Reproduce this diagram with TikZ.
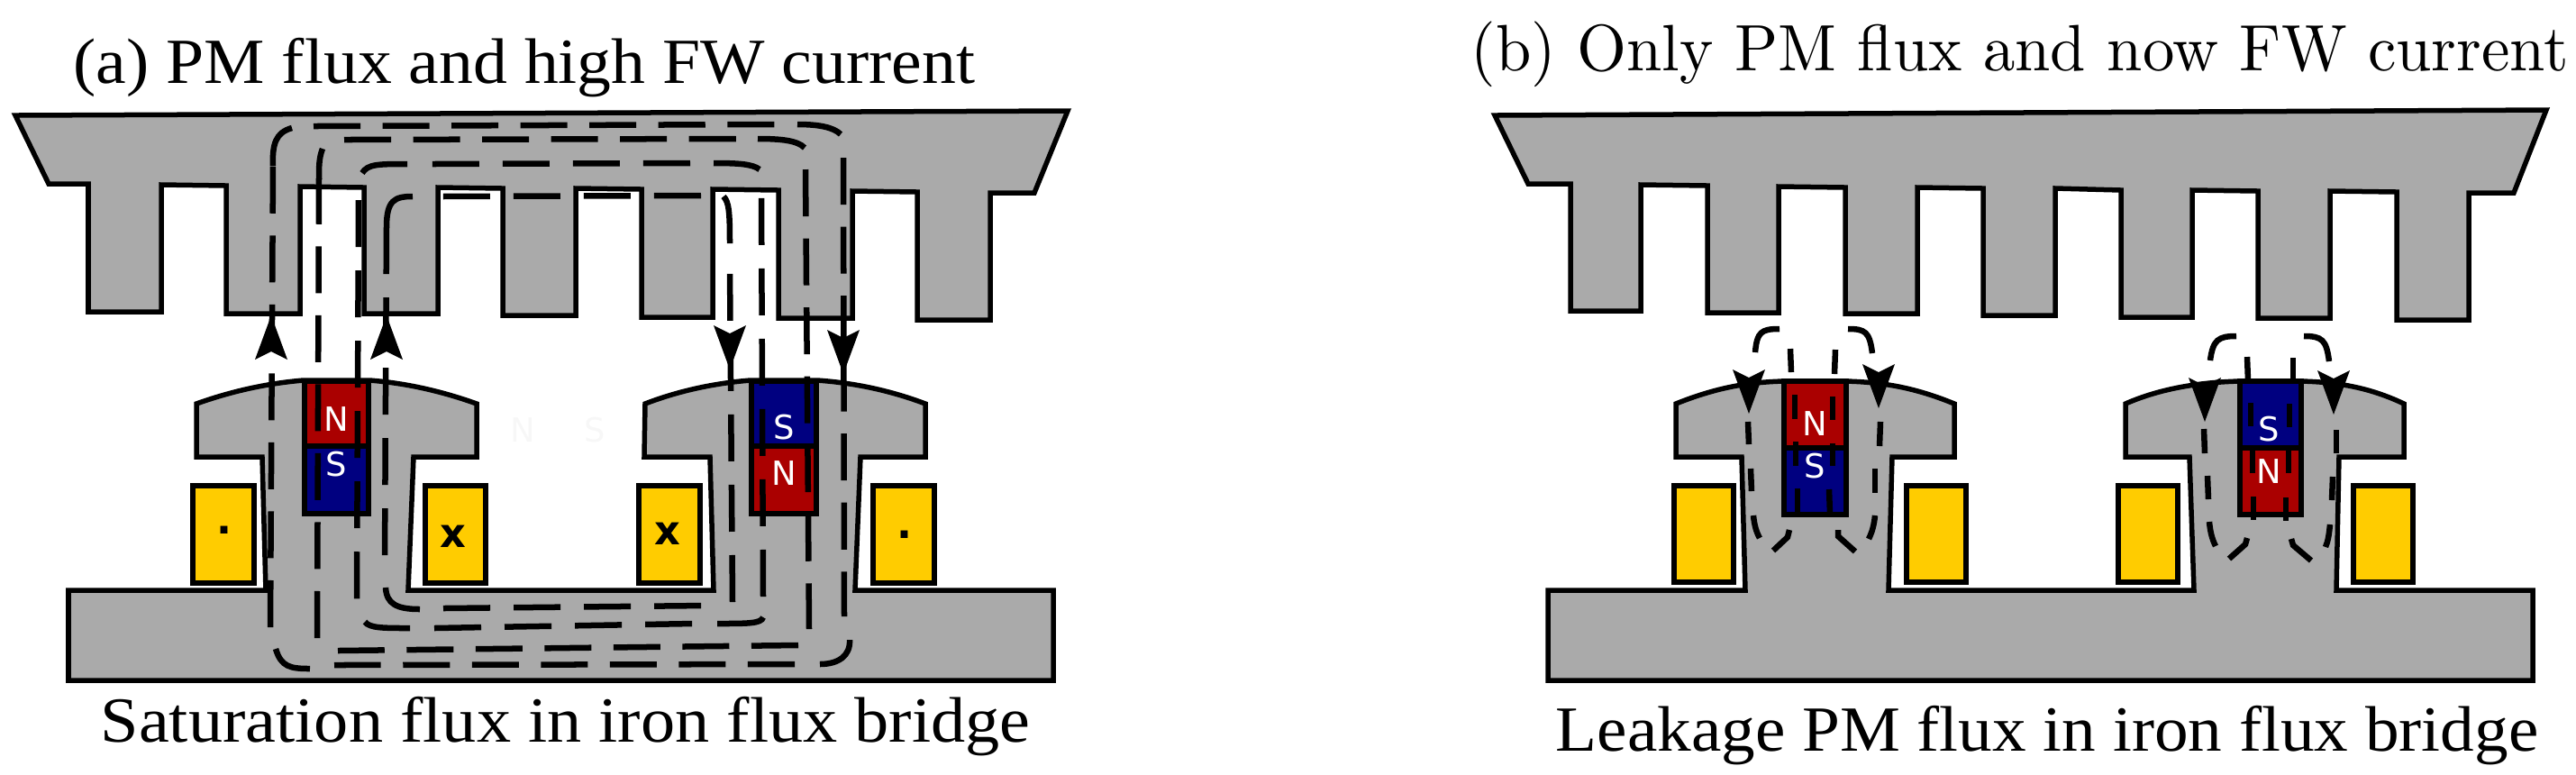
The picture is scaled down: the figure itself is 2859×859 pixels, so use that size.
\documentclass[tikz,border=0pt]{standalone}
\usepackage{graphicx}
\usepackage{fontspec}
\newfontfamily\capfont{Liberation Serif}
\newfontfamily\lblfont{DejaVu Sans}
\definecolor{ironc}{HTML}{AAAAAA}
\definecolor{magred}{HTML}{AA0000}
\definecolor{magblue}{HTML}{000080}
\definecolor{coilc}{HTML}{FFCC00}
\definecolor{ghostc}{HTML}{F7F7F7}
\tikzset{
  iron/.style={draw=black,fill=ironc,line width=0.055cm,line join=miter},
  coilbox/.style={draw=black,fill=coilc,line width=0.06cm},
  redmag/.style={draw=black,fill=magred,line width=0.06cm},
  bluemag/.style={draw=black,fill=magblue,line width=0.06cm},
  fluxs/.style={line width=0.065cm,line cap=butt},
  fluxd/.style={fluxs,dash pattern=on 0.52cm off 0.245cm},
  fluxe/.style={fluxs,dash pattern=on 0.52cm off 0.26cm},
  poletxt/.style={text=white,font=\lblfont\fontsize{10.5}{12}\selectfont,inner sep=0pt},
  ghosttxt/.style={text=ghostc,font=\lblfont\fontsize{10.5}{12}\selectfont,inner sep=0pt},
  marktxt/.style={text=black,font=\lblfont\bfseries\fontsize{12.7}{14}\selectfont,inner sep=0pt,anchor=base},
  captxt/.style={inner sep=0pt,anchor=base west,text=black},
}
\newcommand{\flarrow}[3]{\fill[black] (#1,#2) -- ++(-18,#3*49) -- ++(18,#3*-9) -- ++(18,#3*9) -- cycle;}
\begin{document}
\begin{tikzpicture}[x=0.01cm,y=-0.01cm]
\useasboundingbox (0,0) rectangle (2859,859);
% ---------- panel (a) stator
\draw[iron] (17,128) -- (1185,123) -- (1148,214) -- (1099,214) -- (1099,355) -- (1018,355) -- (1018,213)
  -- (946,212) -- (946,353) -- (864,353) -- (864,211) -- (791,210) -- (791,352) -- (712,352) -- (712,210)
  -- (639,209) -- (639,350) -- (558,350) -- (558,209) -- (486,208) -- (486,348) -- (404,348) -- (404,208)
  -- (333,207) -- (333,348) -- (251,348) -- (251,206) -- (179,205) -- (179,346) -- (98,346) -- (98,204)
  -- (54,204) -- cycle;
% panel (a) rotor
\draw[iron] (76,655) -- (295,655) -- (291,507) -- (218,507) -- (218,448)
  .. controls (260,433) and (300,425) .. (337,422) -- (410,422)
  .. controls (450,425) and (490,434) .. (529,448) -- (529,507) -- (459,507) -- (453,655)
  -- (792,655) -- (788,507) -- (715,507) -- (716,448)
  .. controls (755,433) and (795,425) .. (833,422) -- (907,422)
  .. controls (950,425) and (990,434) .. (1027,448) -- (1027,507) -- (955,507) -- (949,655)
  -- (1169,655) -- (1169,755) -- (76,755) -- cycle;
% coils (a)
\draw[coilbox] (214,539) rectangle (282,647);
\draw[coilbox] (472,539) rectangle (539,647);
\draw[coilbox] (709,539) rectangle (777,647);
\draw[coilbox] (969,539) rectangle (1037,647);
% magnets (a)
\draw[redmag] (338,423) rectangle (409,495);
\draw[bluemag] (338,495) rectangle (409,570);
\draw[bluemag] (834,423) rectangle (906,495);
\draw[redmag] (834,495) rectangle (906,570);
\node[poletxt] (an1) at (373,465) {N};
\node[poletxt] (as1) at (373,515) {S};
\node[poletxt] (as2) at (870,474) {S};
\node[poletxt] (an2) at (870,525) {N};
\node[ghosttxt] (gn) at (580,477) {N};
\node[ghosttxt] (gs) at (660,477) {S};
\node[marktxt] (d1) at (249,592) {.};
\node[marktxt] (d2) at (1004,597) {.};
\node[marktxt] (x1) at (503,607) {x};
\node[marktxt] (x2) at (741,604) {x};
% flux loop A
\draw[fluxd] (348,140) -- (860,138);
\draw[fluxs] (885,138) .. controls (908,138) and (925,141) .. (933,149);
\draw[fluxd] (936,175) -- (937,684);
\draw[fluxs] (943,710) .. controls (944,728) and (930,737) .. (910,737);
\draw[fluxd] (882,737) -- (371,738);
\draw[fluxs] (344,742) .. controls (322,742) and (312,740) .. (306,720);
\draw[fluxd] (300,696) -- (303,183);
\draw[fluxs] (303,184) .. controls (302,160) and (306,147) .. (324,142);
% flux loop B
\draw[fluxd] (382,155) -- (817,154);
\draw[fluxs] (841,154) .. controls (868,154) and (885,156) .. (893,164);
\draw[fluxd] (894,188) -- (898,698);
\draw[fluxd] (886,716) -- (375,722);
\draw[fluxd] (352,708) -- (354,198);
\draw[fluxs] (354,199) .. controls (354,185) and (354,175) .. (358,165);
% flux loop C
\draw[fluxs] (458,218) .. controls (438,218) and (429,222) .. (429,252);
\draw[fluxe] (429,252) -- (427,625);
\draw[fluxs] (428,652) .. controls (429,670) and (440,676) .. (466,676);
\draw[fluxe] (492,675) -- (784,672);
\draw[fluxe] (813,668) -- (810,297);
\draw[fluxs] (810,270) .. controls (810,235) and (809,224) .. (803,218);
\draw[fluxe] (778,217) -- (487,218);
% flux loop D
\draw[fluxe] (398,222) -- (396,667);
\draw[fluxs] (405,690) .. controls (410,697) and (425,697) .. (455,697);
\draw[fluxe] (482,697) -- (770,692);
\draw[fluxs] (796,692) .. controls (830,692) and (845,692) .. (847,685);
\draw[fluxe] (847,662) -- (845,215);
\draw[fluxs] (843,188) .. controls (835,182) and (820,181) .. (792,181);
\draw[fluxe] (766,181) -- (478,182);
\draw[fluxs] (452,182) .. controls (420,182) and (408,182) .. (402,192);
% arrows (a)
\flarrow{301}{350}{1}
\flarrow{429}{350}{1}
\flarrow{810}{410}{-1}
\flarrow{936}{415}{-1}
% ---------- panel (b) stator
\draw[iron] (1659,128) -- (2826,122) -- (2790,214) -- (2740,214) -- (2740,355) -- (2660,355) -- (2660,213)
  -- (2586,212) -- (2586,353) -- (2506,353) -- (2506,212) -- (2433,211) -- (2433,352) -- (2354,352) -- (2354,211)
  -- (2281,209) -- (2281,350) -- (2201,350) -- (2201,209) -- (2128,208) -- (2128,348) -- (2048,348) -- (2048,208)
  -- (1974,207) -- (1974,347) -- (1895,347) -- (1895,206) -- (1821,205) -- (1821,345) -- (1743,345) -- (1743,204)
  -- (1696,204) -- cycle;
% panel (b) rotor
\draw[iron] (1718,655) -- (1937,655) -- (1933,507) -- (1860,507) -- (1860,448)
  .. controls (1905,430) and (1940,424) .. (1980,423) -- (2048,423)
  .. controls (2090,424) and (2125,430) .. (2169,448) -- (2169,507) -- (2100,507) -- (2096,655)
  -- (2435,655) -- (2430,507) -- (2359,507) -- (2359,448)
  .. controls (2400,430) and (2445,424) .. (2486,423) -- (2554,423)
  .. controls (2595,424) and (2630,430) .. (2668,448) -- (2668,507) -- (2596,507) -- (2593,655)
  -- (2811,655) -- (2811,755) -- (1718,755) -- cycle;
% coils (b)
\draw[coilbox] (1858,539) rectangle (1924,646);
\draw[coilbox] (2116,539) rectangle (2182,646);
\draw[coilbox] (2351,539) rectangle (2417,646);
\draw[coilbox] (2612,539) rectangle (2678,646);
% magnets (b)
\draw[redmag] (1980,423) rectangle (2049,497);
\draw[bluemag] (1980,497) rectangle (2049,571);
\draw[bluemag] (2486,423) rectangle (2554,497);
\draw[redmag] (2486,497) rectangle (2554,571);
\node[poletxt] (bn1) at (2014,470) {N};
\node[poletxt] (bs1) at (2014,517) {S};
\node[poletxt] (bs2) at (2518,476) {S};
\node[poletxt] (bn2) at (2518,523) {N};
% leakage flux, left pole
\draw[fluxs] (1975,365) .. controls (1955,365) and (1950,368) .. (1948,391);
\draw[fluxs] (1940,468) -- (1941,493);
\draw[fluxs] (1943,520) -- (1944,545);
\draw[fluxs] (1946,572) .. controls (1947,582) and (1949,590) .. (1953,597);
\draw[fluxs] (1987,387) -- (1988,413);
\draw[fluxs] (1992,438) -- (1992,465);
\draw[fluxs] (1993,490) -- (1993,517);
\draw[fluxs] (1995,542) -- (1995,570);
\draw[fluxs] (1986,588) -- (1984,596) -- (1968,611);
\draw[fluxs] (2051,365) .. controls (2070,365) and (2075,368) .. (2078,392);
\draw[fluxs] (2087,468) -- (2086,495);
\draw[fluxs] (2081,520) -- (2081,547);
\draw[fluxs] (2081,572) .. controls (2080,582) and (2078,590) .. (2074,598);
\draw[fluxs] (2037,388) -- (2036,415);
\draw[fluxs] (2034,440) -- (2034,466);
\draw[fluxs] (2034,492) -- (2034,517);
\draw[fluxs] (2030,543) -- (2031,570);
\draw[fluxs] (2040,588) -- (2040,595) -- (2059,612);
% leakage flux, right pole
\draw[fluxs] (2482,373) .. controls (2462,373) and (2456,377) .. (2453,400);
\draw[fluxs] (2446,476) -- (2447,503);
\draw[fluxs] (2450,528) -- (2451,554);
\draw[fluxs] (2452,579) .. controls (2453,590) and (2455,598) .. (2459,606);
\draw[fluxs] (2494,396) -- (2495,422);
\draw[fluxs] (2498,447) -- (2498,473);
\draw[fluxs] (2500,498) -- (2500,525);
\draw[fluxs] (2501,551) -- (2501,577);
\draw[fluxs] (2494,597) -- (2492,604) -- (2474,620);
\draw[fluxs] (2557,373) .. controls (2577,373) and (2582,377) .. (2585,401);
\draw[fluxs] (2593,477) -- (2593,503);
\draw[fluxs] (2589,529) -- (2588,555);
\draw[fluxs] (2586,582) .. controls (2585,592) and (2584,600) .. (2581,607);
\draw[fluxs] (2545,397) -- (2545,422);
\draw[fluxs] (2541,448) -- (2541,474);
\draw[fluxs] (2540,500) -- (2540,525);
\draw[fluxs] (2537,552) -- (2537,578);
\draw[fluxs] (2543,598) -- (2545,605) -- (2565,622);
% arrows (b)
\flarrow{1941}{459}{-1}
\flarrow{2085}{453}{-1}
\flarrow{2447}{468}{-1}
\flarrow{2590}{460}{-1}
% ---------- captions
\node[captxt] (cap1) at (81,92) {\resizebox{10.00cm}{\height}{\capfont\fontsize{20.3}{24}\selectfont (a) PM flux and high FW current}};
\node[captxt] (cap2) at (1632,78) {\resizebox{12.17cm}{2.07\height}{\fontsize{10}{12}\selectfont (b) Only PM flux and now FW current}};
\node[captxt] (cap3) at (111,823) {\resizebox{10.31cm}{\height}{\capfont\fontsize{20.3}{24}\selectfont Saturation flux in iron flux bridge}};
\node[captxt] (cap4) at (1726,833) {\resizebox{10.90cm}{\height}{\capfont\fontsize{20.3}{24}\selectfont Leakage PM flux in iron flux bridge}};
\end{tikzpicture}
\end{document}
